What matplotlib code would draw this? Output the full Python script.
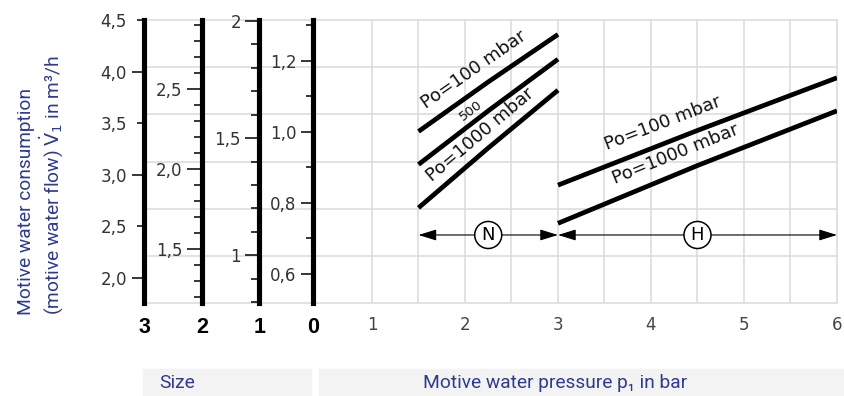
import matplotlib.pyplot as plt
import numpy as np
from matplotlib.patches import Rectangle

# motive water pressure p1 [bar] vs. motive water flow (read on the size 3 scale, m³/h)
p_N = [1.5, 2.25, 3.0]
flow_N_100 = [3.42, 3.90, 4.36]
flow_N_500 = [3.10, 3.62, 4.12]
flow_N_1000 = [2.68, 3.26, 3.82]

p_H = [3.0, 4.5, 6.0]
flow_H_100 = [2.90, 3.43, 3.94]
flow_H_1000 = [2.53, 3.09, 3.62]

range_N = [1.5, 3.0]
range_H = [3.0, 6.0]
pressure_ticks = [1, 2, 3, 4, 5, 6]

# nozzle sizes with their own flow scales (m³/h)
sizes = ["3", "2", "1", "0"]
scale_limits = [(1.758, 4.5), (1.163, 2.931), (0.796, 2.004), (0.518, 1.314)]
scale_major = [[2.0, 3.0, 4.0], [1.5, 2.0, 2.5], [1.0, 1.5, 2.0], [0.6, 0.8, 1.0, 1.2]]
scale_major_labels = [["2,0", "3,0", "4,0"], ["1,5", "2,0", "2,5"],
                      ["1", "1,5", "2"], ["0,6", "0,8", "1,0", "1,2"]]
scale_minor = [[2.5, 3.5, 4.5],
               [1.2, 1.3, 1.4, 1.6, 1.7, 1.8, 1.9, 2.1, 2.2, 2.3, 2.4, 2.6, 2.7, 2.8, 2.9],
               [0.8, 0.9, 1.1, 1.2, 1.3, 1.4, 1.6, 1.7, 1.8, 1.9],
               [0.7, 0.9, 1.1, 1.3]]
scale_minor_labels = [["2,5", "3,5", "4,5"], [], [], []]

W, H = 844, 396
TOP, BOT = 20, 303
scale_x = [144, 202, 259.3, 313.3]
major_len = [9.0, 11.0, 10.0, 9.0]
minor_len = [5.3, 5.5, 6.0, 5.0]

BLUE = "#2e3b8e"
GRID = "#dadada"
NUM_FONT = ["DejaVu Sans"]
BLUE_FONT = ["Roboto", "DejaVu Sans"]


def px_box(x0, y0, x1, y1):
    return [x0 / W, 1 - y1 / H, (x1 - x0) / W, (y1 - y0) / H]


def curve_label(ax, xs, ys, x_at, text, offset, size):
    y_at = np.interp(x_at, xs, ys)
    a = ax.transData.transform((xs[0], ys[0]))
    b = ax.transData.transform((xs[-1], ys[-1]))
    ang = np.degrees(np.arctan2(b[1] - a[1], b[0] - a[0]))
    nx, ny = -np.sin(np.radians(ang)), np.cos(np.radians(ang))
    ax.annotate(text, (x_at, y_at), xytext=(nx * offset, ny * offset),
                textcoords="offset points", rotation=ang, rotation_mode="anchor",
                ha="center", va="center", fontsize=size, family=NUM_FONT, color="#111")


fig = plt.figure(figsize=(W / 100, H / 100), dpi=100)

# horizontal background grid running across scales and diagram
bg = fig.add_axes(px_box(144, TOP, 837, BOT), zorder=0)
bg.set_axis_off()
for f in np.linspace(0, 1, 7):
    bg.axhline(f, color=GRID, lw=1.1, clip_on=False)

# diagram: flow vs. motive pressure
ax = fig.add_axes(px_box(313.3, TOP, 837, BOT), zorder=1)
ax.patch.set_alpha(0)
ax.set_xlim(0.369, 6)
ax.set_ylim(scale_limits[0])
for s in ax.spines.values():
    s.set_visible(False)
ax.vlines(np.arange(1, 6.01, 0.5), *scale_limits[0], color=GRID, lw=1.1, clip_on=False)
ax.set_yticks([])
ax.set_xticks(pressure_ticks)
ax.set_xticklabels([str(t) for t in pressure_ticks], family=NUM_FONT, fontsize=12, color="#444")
ax.tick_params(axis="x", length=0, pad=9)

curve_kw = dict(color="black", lw=3.4, solid_capstyle="butt")
for ys in (flow_N_100, flow_N_500, flow_N_1000):
    ax.plot(p_N, ys, **curve_kw)
for ys in (flow_H_100, flow_H_1000):
    ax.plot(p_H, ys, **curve_kw)

curve_label(ax, p_N, flow_N_100, 2.21, "Po=100 mbar", 13.2, 13)
curve_label(ax, p_N, flow_N_500, 2.13, "500", 7.6, 9.5)
curve_label(ax, p_N, flow_N_1000, 2.27, "Po=1000 mbar", 10.9, 13)
curve_label(ax, p_H, flow_H_100, 4.20, "Po=100 mbar", 14.0, 13)
curve_label(ax, p_H, flow_H_1000, 4.34, "Po=1000 mbar", 13.5, 13)

# working ranges N and H
arrow_y = 2.417
arrow_kw = dict(arrowstyle="<|-|>,head_length=0.55,head_width=0.17",
                mutation_scale=20, lw=0.8, color="black", shrinkA=0, shrinkB=0)
for rng, name in ((range_N, "N"), (range_H, "H")):
    ax.annotate("", xy=(rng[1], arrow_y), xytext=(rng[0], arrow_y),
                arrowprops=arrow_kw)
    ax.text(np.mean(rng), arrow_y, name, ha="center", va="center",
            fontsize=13, family=NUM_FONT,
            bbox=dict(boxstyle="circle,pad=0.25", fc="white", ec="black", lw=1.1))

# one flow scale per nozzle size
for i, x in enumerate(scale_x):
    sa = fig.add_axes(px_box(x, TOP, x + 1, BOT), zorder=2)
    sa.patch.set_alpha(0)
    for k in ("top", "right", "bottom"):
        sa.spines[k].set_visible(False)
    sa.spines["left"].set_linewidth(3.7)
    sa.spines["left"].set_color("black")
    sa.set_ylim(scale_limits[i])
    sa.set_xlim(0, 1)
    sa.set_yticks(scale_major[i])
    sa.set_yticklabels(scale_major_labels[i])
    sa.set_yticks(scale_minor[i], minor=True)
    if scale_minor_labels[i]:
        sa.set_yticklabels(scale_minor_labels[i], minor=True)
    pad = 3.2
    sa.tick_params(axis="y", which="major", length=major_len[i], width=1.1, pad=pad,
                   labelsize=12, labelcolor="#333")
    sa.tick_params(axis="y", which="minor", length=minor_len[i], width=1.1,
                   pad=pad + major_len[i] - minor_len[i], labelsize=12, labelcolor="#333")
    for lab in sa.get_yticklabels(which="both"):
        lab.set_family(NUM_FONT)
    sa.set_xticks([0])
    sa.set_xticklabels([sizes[i]], fontsize=15.5, fontweight="bold",
                       family=["Liberation Sans", "DejaVu Sans"])
    sa.tick_params(axis="x", length=0, pad=10)

# axis captions
fig.text(26.5 / W, 1 - 315 / H, "Motive water consumption", rotation=90,
         ha="center", va="bottom", color=BLUE, fontsize=13.8, family=BLUE_FONT)
fig.text(52 / W, 1 - 315 / H, r"(motive water flow) $\dot{\mathrm{V}}_1$ in m³/h", rotation=90,
         ha="center", va="bottom", color=BLUE, fontsize=13.8, family=BLUE_FONT)

fig.add_artist(Rectangle((143 / W, 0), 168 / W, 27 / H, transform=fig.transFigure,
                         color="#f3f3f3", zorder=-1))
fig.add_artist(Rectangle((319 / W, 0), 525 / W, 27 / H, transform=fig.transFigure,
                         color="#f3f3f3", zorder=-1))
fig.text(159 / W, 1 - 383 / H, "Size", ha="left", va="center",
         color=BLUE, fontsize=13.8, family=BLUE_FONT)
fig.text(555 / W, 1 - 383 / H, "Motive water pressure p₁ in bar", ha="center", va="center",
         color=BLUE, fontsize=13.8, family=BLUE_FONT)

fig.savefig("out.png", dpi=100)
